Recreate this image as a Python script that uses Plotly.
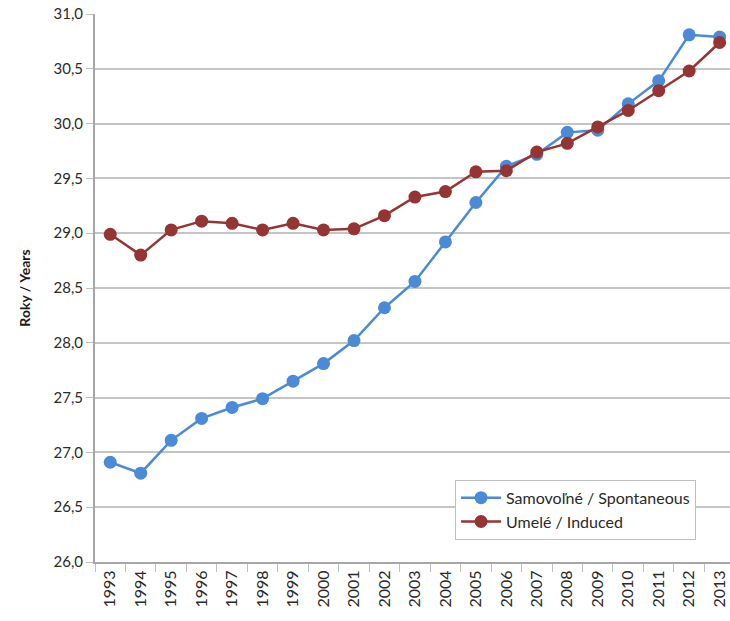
import plotly.graph_objects as go

years = [str(y) for y in range(1993, 2014)]
spontaneous = [26.91, 26.81, 27.11, 27.31, 27.41, 27.49, 27.65, 27.81, 28.02, 28.32,
               28.56, 28.92, 29.28, 29.61, 29.72, 29.92, 29.94, 30.18, 30.39, 30.81, 30.79]
induced = [28.99, 28.80, 29.03, 29.11, 29.09, 29.03, 29.09, 29.03, 29.04, 29.16,
           29.33, 29.38, 29.56, 29.57, 29.74, 29.82, 29.97, 30.12, 30.30, 30.48, 30.74]
y_ticks = [26.0, 26.5, 27.0, 27.5, 28.0, 28.5, 29.0, 29.5, 30.0, 30.5, 31.0]

BLUE = "#4A8AD6"
RED = "#953533"
FONT = "Lato"

fig = go.Figure()
fig.add_trace(go.Scatter(
    x=years, y=spontaneous, name="Samovoľné / Spontaneous",
    mode="lines+markers",
    line=dict(color=BLUE, width=2.5),
    marker=dict(color=BLUE, size=13),
))
fig.add_trace(go.Scatter(
    x=years, y=induced, name="Umelé / Induced",
    mode="lines+markers",
    line=dict(color=RED, width=2.5),
    marker=dict(color=RED, size=13),
))

fig.update_layout(
    width=730, height=621,
    margin=dict(l=95, r=0, t=14, b=59),
    paper_bgcolor="white", plot_bgcolor="white",
    separators=", ",
    font=dict(family=FONT, size=15, color="#2A2A2A"),
    showlegend=True,
    legend=dict(
        x=0.567, y=0.15, xanchor="left", yanchor="top",
        bgcolor="white", bordercolor="#BFBFBF", borderwidth=1,
        font=dict(family=FONT, size=16, color="#2A2A2A"),
        itemwidth=40, tracegroupgap=0,
    ),
)

fig.update_xaxes(
    type="category",
    range=[-0.5, 20.34],
    tickangle=-90,
    tickson="boundaries",
    ticks="outside", ticklen=8, tickcolor="#BFBFBF", tickwidth=1,
    showline=True, linecolor="#A6A6A6", linewidth=2,
    showgrid=False,
    tickfont=dict(family=FONT, size=16, color="#2A2A2A"),
)
fig.update_yaxes(
    range=[26.0, 31.0],
    tickvals=y_ticks,
    tickformat=".1f",
    ticks="outside", ticklen=7, tickcolor="#BFBFBF", tickwidth=1,
    showline=True, linecolor="#A6A6A6", linewidth=2,
    showgrid=True, gridcolor="#C4C4C4", gridwidth=1.5,
    zeroline=False,
    tickfont=dict(family=FONT, size=15, color="#2A2A2A"),
    title=dict(text="<b>Roky / Years</b>", font=dict(family=FONT, size=14, color="#1A1A1A"),
               standoff=20),
)

fig.write_html("out.html")
